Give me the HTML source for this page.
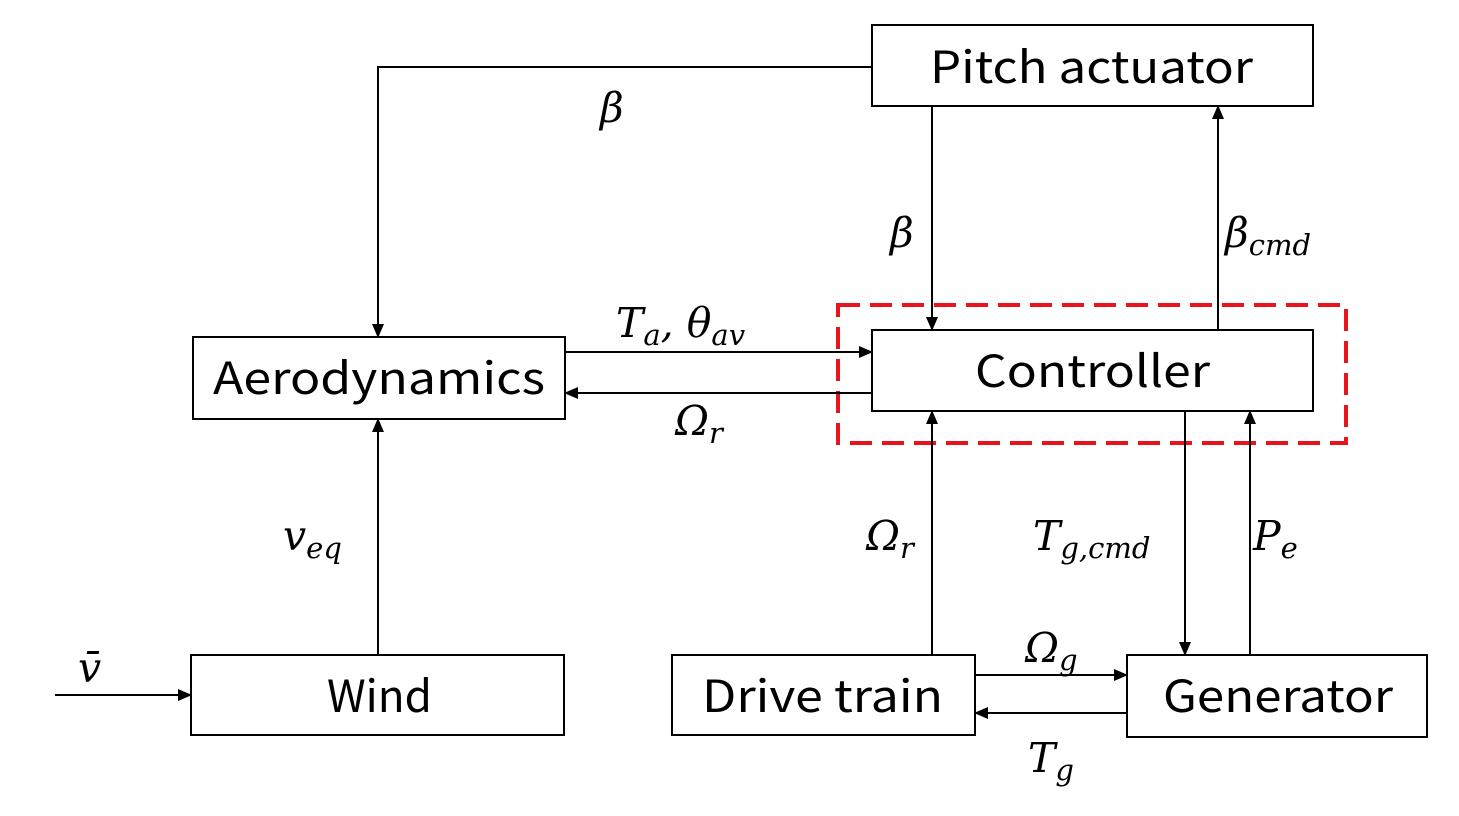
<!DOCTYPE html>
<html><head><meta charset="utf-8"><style>
body{margin:0;background:#fff}
svg text{font-family:"Noto Sans CJK KR","Liberation Sans",sans-serif}
.m{font-family:"DejaVu Serif","Liberation Serif",serif;font-style:italic;font-size:41px}
.s{font-size:29px}
</style></head><body>
<svg width="1459" height="811" viewBox="0 0 1459 811" xmlns="http://www.w3.org/2000/svg">
<defs><marker id="a" markerWidth="14" markerHeight="12" refX="13" refY="6" orient="auto" markerUnits="userSpaceOnUse"><path d="M0,0 L14,6 L0,12 z" fill="#000"/></marker></defs>
<g fill="none" stroke="#000" stroke-width="2">
<rect x="872" y="25" width="441" height="81"/>
<rect x="193" y="337" width="372" height="82"/>
<rect x="872" y="330" width="441" height="81"/>
<rect x="191" y="655" width="373" height="80"/>
<rect x="672" y="655" width="303" height="80"/>
<rect x="1127" y="655" width="300" height="82"/>
</g>
<rect x="838" y="305" width="508" height="138" fill="none" stroke="#e8141a" stroke-width="4" stroke-dasharray="22,10"/>
<g stroke="#000" stroke-width="2" fill="none" marker-end="url(#a)">
<polyline points="872,67 378,67 378,337"/>
<line x1="932" y1="106" x2="932" y2="330"/>
<line x1="1218" y1="330" x2="1218" y2="106"/>
<line x1="565" y1="352" x2="872" y2="352"/>
<line x1="872" y1="393" x2="565" y2="393"/>
<line x1="378" y1="655" x2="378" y2="419"/>
<line x1="55" y1="695" x2="191" y2="695"/>
<line x1="932" y1="655" x2="932" y2="411"/>
<line x1="1185" y1="411" x2="1185" y2="655"/>
<line x1="1250" y1="655" x2="1250" y2="411"/>
<line x1="975" y1="675" x2="1127" y2="675"/>
<line x1="1127" y1="713" x2="975" y2="713"/>
</g>
<g font-size="44" fill="#000" lengthAdjust="spacingAndGlyphs">
<text x="930" y="83" textLength="323" lengthAdjust="spacingAndGlyphs">Pitch actuator</text>
<text x="213" y="394" textLength="332" lengthAdjust="spacingAndGlyphs">Aerodynamics</text>
<text x="975" y="387" textLength="235" lengthAdjust="spacingAndGlyphs">Controller</text>
<text x="327" y="712" textLength="105" lengthAdjust="spacingAndGlyphs">Wind</text>
<text x="702" y="712" textLength="241" lengthAdjust="spacingAndGlyphs">Drive train</text>
<text x="1163" y="712" textLength="230" lengthAdjust="spacingAndGlyphs">Generator</text>
</g>
<g fill="#000">
<text class="m" x="600" y="122">β</text>
<text class="m" x="890" y="247">β</text>
<text class="m" x="1225" y="247">β<tspan class="s" dy="8">cmd</tspan></text>
<text class="m" x="616" y="337">T<tspan class="s" dy="8">a</tspan><tspan dy="-8">, θ</tspan><tspan class="s" dy="8">av</tspan></text>
<text class="m" x="675" y="435">Ω<tspan class="s" dy="8">r</tspan></text>
<text class="m" x="283" y="550">v<tspan class="s" dy="8">eq</tspan></text>
<text class="m" x="866" y="550">Ω<tspan class="s" dy="8">r</tspan></text>
<text class="m" x="1033" y="550">T<tspan class="s" dy="8">g,cmd</tspan></text>
<text class="m" x="1253" y="550">P<tspan class="s" dy="8">e</tspan></text>
<text class="m" x="1025" y="662">Ω<tspan class="s" dy="8">g</tspan></text>
<text class="m" x="1028" y="772">T<tspan class="s" dy="8">g</tspan></text>
<text class="m" x="78" y="682">v̄</text>
</g>
</svg>
</body></html>
